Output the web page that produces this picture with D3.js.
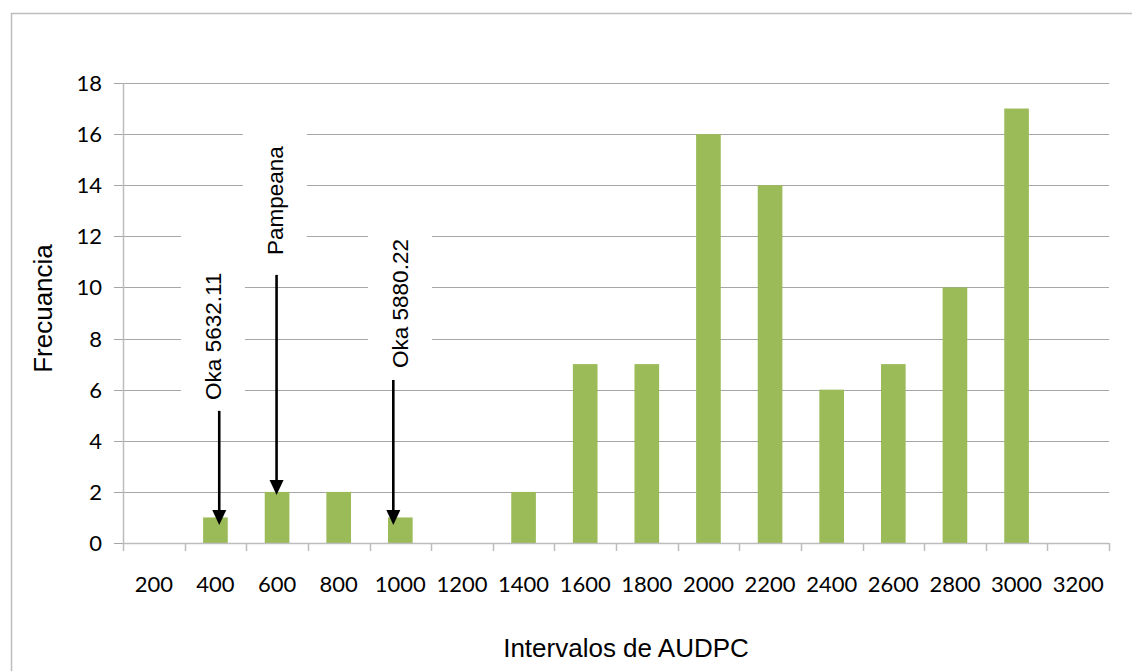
<!DOCTYPE html>
<html>
<head>
<meta charset="utf-8">
<script src="https://cdn.jsdelivr.net/npm/d3@7/dist/d3.min.js"></script>
<style>
  html, body { margin: 0; padding: 0; background: #fff; }
  svg { display: block; }
</style>
</head>
<body>
<script>
// ---- Data ----
const categories = ["200","400","600","800","1000","1200","1400","1600","1800","2000","2200","2400","2600","2800","3000","3200"];
const frequencies = [0, 1, 2, 2, 1, 0, 2, 7, 7, 16, 14, 6, 7, 10, 17, 0];
const yTickValues = [0, 2, 4, 6, 8, 10, 12, 14, 16, 18];
const annotationLabels = ["Oka 5632.11", "Pampeana", "Oka 5880.22"];
const annotationCategories = ["400", "600", "1000"];
const xTitle = "Intervalos de AUDPC";
const yTitle = "Frecuancia";

// ---- Layout ----
const W = 1132, H = 671;
const plot = { left: 123, right: 1109, top: 83, bottom: 543 };
// per-annotation layout: text centre offset, arrow offset (px from band centre),
// text bottom / arrow start (in y units), arrow tip offset (px below bar top)
const annLayout = [
  { dxText: -2.5, dxArrow: 3.8, textBottom: 5.6, lineStart: 5.17, tipDy: 7.5 },
  { dxText: -2.2, dxArrow: -0.5, textBottom: 11.27, lineStart: 10.49, tipDy: 3 },
  { dxText: -0.4, dxArrow: -7, textBottom: 6.85, lineStart: 6.38, tipDy: 7.5 }
];

const svg = d3.select("body").append("svg").attr("width", W).attr("height", H);

svg.append("rect").attr("x", 0).attr("y", 0).attr("width", W).attr("height", H).attr("fill", "#fff");
// outer frame
svg.append("rect").attr("x", 11.5).attr("y", 13.5).attr("width", 1140).attr("height", 700)
  .attr("fill", "none").attr("stroke", "#bdbdbd").attr("stroke-width", 1.5);

const x = d3.scaleBand().domain(categories).range([plot.left, plot.right]).paddingInner(0).paddingOuter(0);
const y = d3.scaleLinear().domain([0, 18]).range([plot.bottom, plot.top]);

// gridlines
svg.append("g").selectAll("line").data(yTickValues).join("line")
  .attr("x1", plot.left - 9).attr("x2", plot.right)
  .attr("y1", d => Math.round(y(d)) + 0.5).attr("y2", d => Math.round(y(d)) + 0.5)
  .attr("stroke", "#a6a6a6").attr("stroke-width", 1);

// y axis
const yAxis = d3.axisLeft(y).tickValues(yTickValues).tickSize(0).tickPadding(0).tickFormat(d3.format("d"));
const gy = svg.append("g").attr("transform", `translate(${plot.left},0)`).call(yAxis);
gy.select(".domain").remove();
gy.selectAll("text").attr("x", -21).attr("dy", "0.34em")
  .attr("font-family", "Lato, 'Open Sans', sans-serif").attr("font-size", 22).attr("fill", "#000");
svg.append("line").attr("x1", plot.left + 0.5).attr("x2", plot.left + 0.5)
  .attr("y1", plot.top).attr("y2", plot.bottom + 1).attr("stroke", "#bdbdbd").attr("stroke-width", 1.5);

// bars
svg.append("g").selectAll("rect").data(categories.map((c, i) => ({ c, v: frequencies[i] }))).join("rect")
  .attr("x", d => x(d.c) + x.bandwidth() * 0.3)
  .attr("width", x.bandwidth() * 0.4)
  .attr("y", d => y(d.v))
  .attr("height", d => y(0) - y(d.v))
  .attr("fill", "#9bbb59");

// x axis
const xAxis = d3.axisBottom(x).tickSize(0).tickPadding(0);
const gx = svg.append("g").attr("transform", `translate(0,${plot.bottom})`).call(xAxis);
gx.select(".domain").remove();
gx.selectAll("text").attr("y", 49).attr("dy", 0)
  .attr("font-family", "Lato, 'Open Sans', sans-serif").attr("font-size", 22).attr("fill", "#000");
svg.append("line").attr("x1", plot.left).attr("x2", plot.right)
  .attr("y1", plot.bottom + 0.5).attr("y2", plot.bottom + 0.5).attr("stroke", "#bdbdbd").attr("stroke-width", 1.5);
// x tick marks at band boundaries
const boundaries = categories.map(c => x(c)).concat([x(categories[categories.length - 1]) + x.bandwidth()]);
svg.append("g").selectAll("line").data(boundaries).join("line")
  .attr("x1", d => Math.round(d) + 0.5).attr("x2", d => Math.round(d) + 0.5)
  .attr("y1", plot.bottom).attr("y2", plot.bottom + 8)
  .attr("stroke", "#bdbdbd").attr("stroke-width", 1.5);

// annotations
const fsAnn = 22.5;
const annG = svg.append("g");
annotationLabels.forEach((label, i) => {
  const L = annLayout[i];
  const cat = annotationCategories[i];
  const bc = x(cat) + x.bandwidth() / 2;
  const tc = bc + L.dxText;
  const tb = y(L.textBottom);
  const t = annG.append("text")
    .attr("transform", `translate(${tc + fsAnn * 0.716 / 2},${tb}) rotate(-90)`)
    .attr("font-family", "'Liberation Sans', Arial, sans-serif")
    .attr("font-size", fsAnn).attr("fill", "#000").text(label);
  const len = t.node().getComputedTextLength();
  annG.insert("rect", "text")
    .attr("x", tc - 32).attr("width", 64)
    .attr("y", tb - len - 40).attr("height", len + 50)
    .attr("fill", "#fff");
  const ax = bc + L.dxArrow;
  const tipY = y(frequencies[categories.indexOf(cat)]) + L.tipDy;
  annG.append("line").attr("x1", ax).attr("x2", ax)
    .attr("y1", y(L.lineStart)).attr("y2", tipY - 12)
    .attr("stroke", "#000").attr("stroke-width", 2.6);
  annG.append("path")
    .attr("d", `M${ax - 7},${tipY - 15} L${ax + 7},${tipY - 15} L${ax},${tipY} Z`)
    .attr("fill", "#000");
});

// titles
svg.append("text").attr("transform", `translate(52,308.5) rotate(-90)`)
  .attr("text-anchor", "middle").attr("font-family", "'Liberation Sans', Arial, sans-serif")
  .attr("font-size", 26).attr("fill", "#000").text(yTitle);
svg.append("text").attr("x", 626).attr("y", 657)
  .attr("text-anchor", "middle").attr("font-family", "'Liberation Sans', Arial, sans-serif")
  .attr("font-size", 26).attr("fill", "#000").text(xTitle);
</script>
</body>
</html>
